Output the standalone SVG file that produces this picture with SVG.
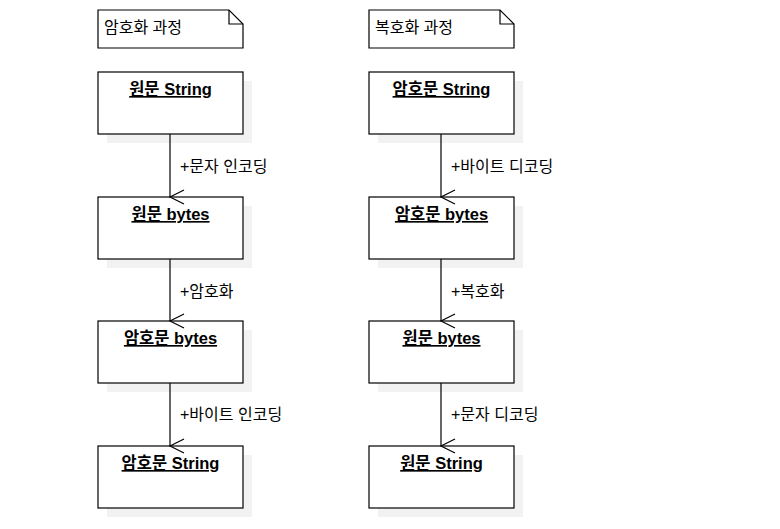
<svg xmlns="http://www.w3.org/2000/svg" width="780" height="529" viewBox="0 0 780 529">
<style>
.box{fill:#fff;stroke:#000;stroke-width:1.2}
.shadow{fill:#f2f2f2;stroke:none}
.title{font-family:"Liberation Sans","Noto Sans CJK KR",sans-serif;font-size:16.5px;font-weight:bold;text-anchor:middle;text-decoration:underline}
.note{font-family:"Liberation Sans","Noto Sans CJK KR",sans-serif;font-size:16px}
.lbl{font-family:"Liberation Sans","Noto Sans CJK KR",sans-serif;font-size:16px}
.conn{stroke:#000;stroke-width:1.2;fill:none}
</style>
<defs>
<marker id="open" markerWidth="20" markerHeight="20" refX="10" refY="16" orient="auto" markerUnits="userSpaceOnUse" viewBox="0 0 20 20">
<path d="M3,2 L10,16 L17,2" fill="none" stroke="#000" stroke-width="1.2"/>
</marker>
</defs>
<rect width="780" height="529" fill="#fff"/>
<g id="note-enc">
<path class="box" d="M98,10 H229 L243,24 V48 H98 Z"/>
<path class="conn" d="M229,10 V24 H243"/>
<text class="note" x="104" y="33">암호화 과정</text>
</g>
<g id="note-dec">
<path class="box" d="M369,10 H500 L514,24 V48 H369 Z"/>
<path class="conn" d="M500,10 V24 H514"/>
<text class="note" x="375" y="33">복호화 과정</text>
</g>
<g id="L1"><rect class="shadow" x="107" y="81" width="145" height="62"/><rect class="box" x="98" y="72" width="145" height="62"/><text class="title" x="170.5" y="95">원문 String</text></g>
<g id="L2"><rect class="shadow" x="107" y="206" width="145" height="62"/><rect class="box" x="98" y="197" width="145" height="62"/><text class="title" x="170.5" y="220">원문 bytes</text></g>
<g id="L3"><rect class="shadow" x="107" y="330" width="145" height="62"/><rect class="box" x="98" y="321" width="145" height="62"/><text class="title" x="170.5" y="344">암호문 bytes</text></g>
<g id="L4"><rect class="shadow" x="107" y="455" width="145" height="62"/><rect class="box" x="98" y="446" width="145" height="62"/><text class="title" x="170.5" y="469">암호문 String</text></g>
<g id="R1"><rect class="shadow" x="378" y="81" width="145" height="62"/><rect class="box" x="369" y="72" width="145" height="62"/><text class="title" x="441.5" y="95">암호문 String</text></g>
<g id="R2"><rect class="shadow" x="378" y="206" width="145" height="62"/><rect class="box" x="369" y="197" width="145" height="62"/><text class="title" x="441.5" y="220">암호문 bytes</text></g>
<g id="R3"><rect class="shadow" x="378" y="330" width="145" height="62"/><rect class="box" x="369" y="321" width="145" height="62"/><text class="title" x="441.5" y="344">원문 bytes</text></g>
<g id="R4"><rect class="shadow" x="378" y="455" width="145" height="62"/><rect class="box" x="369" y="446" width="145" height="62"/><text class="title" x="441.5" y="469">원문 String</text></g>
<g id="connectors">
<line class="conn" x1="170" y1="134" x2="170" y2="197" marker-end="url(#open)"/>
<line class="conn" x1="170" y1="259" x2="170" y2="321" marker-end="url(#open)"/>
<line class="conn" x1="170" y1="383" x2="170" y2="446" marker-end="url(#open)"/>
<line class="conn" x1="441" y1="134" x2="441" y2="197" marker-end="url(#open)"/>
<line class="conn" x1="441" y1="259" x2="441" y2="321" marker-end="url(#open)"/>
<line class="conn" x1="441" y1="383" x2="441" y2="446" marker-end="url(#open)"/>
<text class="lbl" x="180" y="172">+문자 인코딩</text>
<text class="lbl" x="180" y="297">+암호화</text>
<text class="lbl" x="180" y="420">+바이트 인코딩</text>
<text class="lbl" x="451" y="172">+바이트 디코딩</text>
<text class="lbl" x="451" y="297">+복호화</text>
<text class="lbl" x="451" y="420">+문자 디코딩</text>
</g>
</svg>
